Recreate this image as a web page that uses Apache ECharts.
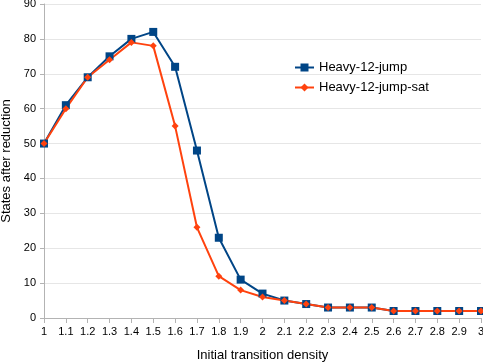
<!DOCTYPE html>
<html>
<head>
<meta charset="utf-8">
<script src="https://cdn.jsdelivr.net/npm/echarts@6/dist/echarts.min.js"></script>
<style>
  html, body { margin: 0; padding: 0; background: #fff; }
  #chart { width: 483px; height: 362px; }
</style>
</head>
<body>
<div id="chart"></div>
<script>
const densities = ['1', '1.1', '1.2', '1.3', '1.4', '1.5', '1.6', '1.7', '1.8', '1.9', '2',
    '2.1', '2.2', '2.3', '2.4', '2.5', '2.6', '2.7', '2.8', '2.9', '3'];
const heavyJump = [50, 61, 69, 75, 80, 82, 72, 48, 23, 11, 7, 5, 4, 3, 3, 3, 2, 2, 2, 2, 2];
const heavyJumpSat = [50, 60, 69, 74, 79, 78, 55, 26, 12, 8, 6, 5, 4, 3, 3, 3, 2, 2, 2, 2, 2];

const chart = echarts.init(document.getElementById('chart'));

const font = 'Liberation Sans, Arial, sans-serif';

chart.setOption({
    animation: false,
    textStyle: { fontFamily: font },
    grid: { left: 44, right: 2, top: 4, bottom: 44, outerBoundsMode: 'none', containLabel: false },
    legend: {
        orient: 'vertical',
        left: 289,
        top: 56,
        itemGap: 7,
        itemWidth: 19,
        itemHeight: 10,
        textStyle: { fontSize: 13, color: '#000', fontFamily: font },
        data: ['Heavy-12-jump', 'Heavy-12-jump-sat']
    },
    xAxis: {
        type: 'category',
        data: densities,
        boundaryGap: false,
        name: 'Initial transition density',
        nameLocation: 'middle',
        nameGap: 31,
        nameTextStyle: { fontSize: 13, color: '#000' },
        axisLine: { lineStyle: { color: '#b3b3b3' } },
        axisTick: { show: true, alignWithLabel: true, length: 5, lineStyle: { color: '#b3b3b3' } },
        axisLabel: { fontSize: 11, color: '#000', margin: 8, interval: 0 },
        splitLine: { show: false }
    },
    yAxis: {
        type: 'value',
        min: 0,
        max: 90,
        interval: 10,
        name: 'States after reduction',
        nameLocation: 'middle',
        nameGap: 30,
        nameTextStyle: { fontSize: 13, color: '#000' },
        axisLine: { show: true, lineStyle: { color: '#b3b3b3' } },
        axisTick: { show: true, length: 4, lineStyle: { color: '#b3b3b3' } },
        axisLabel: { fontSize: 11, color: '#000', margin: 8 },
        splitLine: { show: true, lineStyle: { color: '#e6e6e6' } }
    },
    series: [
        {
            name: 'Heavy-12-jump',
            type: 'line',
            data: heavyJump,
            symbol: 'rect',
            symbolSize: 8,
            color: '#004586',
            lineStyle: { width: 2 },
            itemStyle: { color: '#004586' }
        },
        {
            name: 'Heavy-12-jump-sat',
            type: 'line',
            data: heavyJumpSat,
            symbol: 'diamond',
            symbolSize: 7,
            color: '#ff420e',
            lineStyle: { width: 2 },
            itemStyle: { color: '#ff420e' }
        }
    ]
});
</script>
</body>
</html>
